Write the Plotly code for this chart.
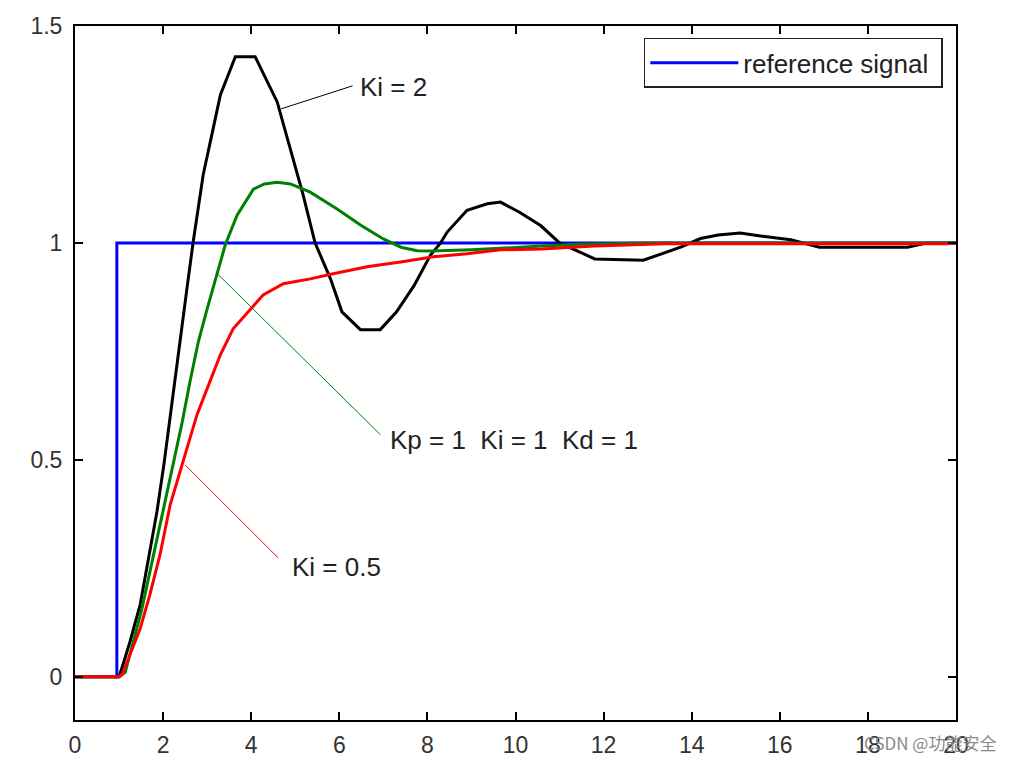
import plotly.graph_objects as go

# ---- data ----
ref_t = [0, 0.95, 0.95, 20]
ref_y = [0, 0, 1, 1]

ki2_t = [0, 1.0, 1.09, 1.25, 1.48, 1.66, 1.86, 2.02, 2.19, 2.34, 2.54, 2.68, 2.91, 3.14, 3.3,
         3.64, 4.09, 4.59, 4.89, 5.18, 5.45, 5.8, 6.06, 6.48, 6.93, 7.3, 7.7, 8.07, 8.3, 8.45,
         8.9, 9.36, 9.66, 10.1, 10.57, 11.0, 11.8, 12.9, 13.75, 14.2, 14.6, 15.1, 15.7, 16.25,
         16.9, 18.9, 19.3, 20]
ki2_y = [0, 0, 0.028, 0.081, 0.166, 0.265, 0.38, 0.49, 0.618, 0.742, 0.894, 1.0, 1.157, 1.265,
         1.341, 1.429, 1.429, 1.325, 1.217, 1.11, 1.0, 0.917, 0.841, 0.80, 0.80, 0.841, 0.902,
         0.972, 1.0, 1.025, 1.075, 1.09, 1.094, 1.07, 1.04, 1.0, 0.963, 0.96, 0.99, 1.01, 1.018,
         1.023, 1.014, 1.007, 0.99, 0.99, 0.999, 0.999]

ki1_t = [0, 1.0, 1.14, 1.3, 1.52, 1.75, 2.0, 2.2, 2.43, 2.61, 2.8, 3.0, 3.22, 3.41, 3.68, 4.05,
         4.3, 4.59, 4.89, 5.34, 5.95, 6.48, 7.0, 7.4, 7.77, 8.1, 9.0, 9.66, 10.5, 11.5, 13.0, 20]
ki1_y = [0, 0, 0.01, 0.07, 0.157, 0.265, 0.38, 0.48, 0.585, 0.68, 0.772, 0.848, 0.926, 0.995,
         1.064, 1.124, 1.136, 1.14, 1.136, 1.117, 1.078, 1.041, 1.009, 0.99, 0.982, 0.981, 0.984,
         0.988, 0.992, 0.997, 1.0, 1.0]

ki05_t = [0, 1.0, 1.07, 1.25, 1.48, 1.7, 1.93, 2.16, 2.45, 2.55, 2.77, 3.0, 3.3, 3.59, 3.98,
          4.27, 4.73, 5.34, 5.86, 6.63, 7.39, 8.14, 8.9, 9.66, 10.6, 11.8, 13.4, 19.8, 20]
ki05_y = [0, 0, 0.005, 0.051, 0.111, 0.189, 0.281, 0.396, 0.495, 0.525, 0.604, 0.664, 0.742,
          0.802, 0.848, 0.88, 0.906, 0.917, 0.929, 0.945, 0.956, 0.968, 0.975, 0.984, 0.986,
          0.993, 0.998, 0.998, 1.0]

x_ticks = [0, 2, 4, 6, 8, 10, 12, 14, 16, 18, 20]
y_ticks = [0, 0.5, 1, 1.5]
y_tick_text = ["0", "0.5", "1", "1.5"]

# callout labels: text, label anchor (x, y), leader line (x0, y0, x1, y1), colour
labels = ["Ki = 2", "Kp = 1\u00a0\u00a0Ki = 1\u00a0\u00a0Kd = 1", "Ki = 0.5"]
label_x = [6.43, 7.11, 4.89]
label_y = [1.359, 0.546, 0.253]
leader_x0 = [4.68, 3.23, 2.5]
leader_y0 = [1.309, 0.929, 0.488]
leader_x1 = [6.3, 6.93, 4.61]
leader_y1 = [1.362, 0.558, 0.274]
leader_col = ["#000000", "#008000", "#ff0000"]

FONT = "Liberation Sans, Arial, sans-serif"

fig = go.Figure()
fig.add_trace(go.Scatter(x=ref_t, y=ref_y, mode="lines", name="reference signal\u00a0",
                         line=dict(color="#0000ff", width=3), showlegend=True))
fig.add_trace(go.Scatter(x=ki2_t, y=ki2_y, mode="lines", name="Ki = 2",
                         line=dict(color="#000000", width=3), showlegend=False))
fig.add_trace(go.Scatter(x=ki1_t, y=ki1_y, mode="lines", name="Ki = 1",
                         line=dict(color="#008000", width=3), showlegend=False))
fig.add_trace(go.Scatter(x=ki05_t, y=ki05_y, mode="lines", name="Ki = 0.5",
                         line=dict(color="#ff0000", width=3), showlegend=False))

for i in range(len(labels)):
    fig.add_shape(type="line", xref="x", yref="y",
                  x0=leader_x0[i], y0=leader_y0[i], x1=leader_x1[i], y1=leader_y1[i],
                  line=dict(color=leader_col[i], width=1))
    fig.add_annotation(x=label_x[i], y=label_y[i], xref="x", yref="y", text=labels[i],
                       showarrow=False, xanchor="left", yanchor="middle",
                       font=dict(family=FONT, size=26, color="#222222"))

fig.add_annotation(x=0.97, y=-0.033, xref="paper", yref="paper", text="CSDN @功能安全",
                   showarrow=False, xanchor="center", yanchor="middle",
                   font=dict(family="Noto Sans CJK SC", size=17, color="#8a8a8a"))

axis_common = dict(showline=True, linecolor="#000000", linewidth=2, mirror="allticks",
                   ticks="inside", ticklen=8, tickwidth=1.5, tickcolor="#000000",
                   showgrid=False, zeroline=False, automargin=False,
                   tickfont=dict(family=FONT, size=23, color="#333333"))

fig.update_xaxes(range=[0, 20], tickvals=x_ticks, ticklabelstandoff=3, **axis_common)
fig.update_yaxes(range=[-0.1, 1.5], tickvals=y_ticks, ticktext=y_tick_text,
                 ticklabelstandoff=6, **axis_common)

fig.update_layout(
    width=1013, height=761,
    margin=dict(l=75, r=57, t=26, b=41),
    paper_bgcolor="#ffffff", plot_bgcolor="#ffffff",
    legend=dict(x=0.985, y=0.983, xanchor="right", yanchor="top",
                bordercolor="#222222", borderwidth=1.5, bgcolor="#ffffff",
                font=dict(family=FONT, size=26, color="#222222"),
                itemwidth=88),
)

fig.write_html("out.html", config={"displayModeBar": False},
               post_script="document.body.style.margin='0';document.body.style.overflow='hidden';")
